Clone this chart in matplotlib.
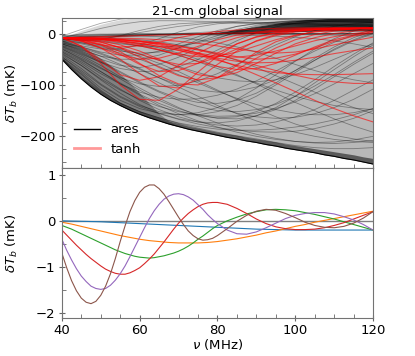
import numpy as np
import matplotlib.pyplot as plt
from matplotlib.lines import Line2D
from matplotlib.ticker import MultipleLocator

# frequency nodes (MHz)
nu_top = [40, 45, 50, 55, 60, 65, 70, 75, 80, 85, 90, 95, 100, 105, 110, 115, 120]
nu_env = [40, 42.5, 45, 47.5, 50, 52.5, 55, 57.5, 60, 62.5, 65, 67.5, 70, 72.5, 75, 77.5, 80,
          82.5, 85, 87.5, 90, 92.5, 95, 97.5, 100, 102.5, 105, 107.5, 110, 112.5, 115, 117.5, 120]

# extent of the ares ensemble (mK)
ares_low = [-50, -70, -88, -104, -118, -130, -140, -149, -157, -164, -170, -176, -181, -186, -190, -194, -198,
            -202, -205, -209, -212, -216, -219, -223, -226, -229, -232, -236, -239, -243, -246, -250, -254]
ares_edge = [-46, -65, -83, -98, -112, -124, -134, -143, -151, -158, -164, -170, -175, -180, -184, -188, -192,
             -195, -198, -202, -205, -208, -211, -215, -218, -221, -224, -227, -230, -233, -236, -240, -243]
ares_mid = [-8, -7, -6, -5.5, -5, -4.5, -4, -3.5, -3, -2.5, -2, -2, -2, -1, -1, -1, -1,
            0, 0, 0, 0, 0, 0, 0, 0, 0, 0, 0, 0, 0, 0, 0, 0]
ares_high = [-8, -1, 6, 12, 18, 23, 27, 30, 31, 31, 31, 31, 31, 31, 31, 31, 31,
             31, 31, 31, 31, 31, 31, 31, 31, 31, 31, 31, 31, 31, 31, 31, 31]
dense_low = [0, 0, 0, 0, 0, 0, 0, 0, 0, 0, 0, 0, 0, 0, 0, 0, 0,
             0, 1, 1, 2, 2, 3, 3, 4, 4, 5, 5, 5, 5, 5, 5, 5]
dense_high = [0, 0, 0, 0, 0, 0, 0, 0, 0, 0, 0, 0, 0, 0, 0, 1, 3,
              5, 8, 11, 14, 17, 20, 23, 25, 27, 28, 29, 30, 31, 31, 31, 31]
# dense wedge at low frequency (40-70 MHz)
dense_left = [-12, -18, -26, -36, -48, -62, -78, -96, -116, -136, -156, -170, -181]

# a sample of ares signals (mK)
ares_signals = [
    [-50, -80, -112, -135, -152, -164, -175, -184, -192, -199, -205, -212, -218, -222, -224, -224, -222],
    [-48, -78, -110, -136, -152, -164, -174, -181, -186, -188, -188, -186, -182, -176, -168, -158, -146],
    [-45, -72, -100, -124, -142, -156, -167, -176, -183, -188, -191, -192, -190, -185, -176, -165, -150],
    [-45, -75, -106, -130, -146, -155, -158, -154, -144, -128, -106, -80, -54, -30, -10, 5, 15],
    [-42, -68, -98, -122, -140, -152, -158, -158, -152, -140, -122, -100, -76, -52, -30, -12, 2],
    [-40, -62, -88, -110, -128, -142, -152, -158, -161, -160, -155, -146, -133, -117, -98, -78, -58],
    [-38, -62, -90, -116, -138, -155, -166, -172, -174, -170, -160, -144, -122, -96, -70, -45, -22],
    [-36, -58, -84, -108, -130, -148, -162, -172, -178, -180, -178, -172, -162, -148, -130, -110, -90],
    [-35, -55, -78, -98, -114, -124, -128, -127, -120, -108, -92, -73, -53, -34, -17, -3, 8],
    [-33, -52, -74, -96, -118, -136, -150, -160, -164, -162, -152, -136, -114, -90, -64, -40, -18],
    [-30, -50, -74, -98, -120, -140, -156, -170, -182, -192, -200, -206, -210, -212, -211, -207, -200],
    [-30, -48, -68, -86, -98, -103, -101, -92, -78, -60, -40, -22, -6, 6, 14, 19, 22],
    [-28, -45, -66, -88, -110, -130, -146, -158, -165, -166, -160, -148, -130, -108, -84, -60, -38],
    [-26, -42, -62, -84, -106, -126, -144, -160, -174, -186, -196, -204, -210, -213, -214, -212, -208],
    [-25, -40, -56, -68, -74, -73, -65, -50, -32, -14, 2, 13, 20, 23, 24, 24, 23],
    [-24, -38, -56, -76, -96, -114, -130, -142, -150, -152, -148, -138, -122, -102, -80, -56, -34],
    [-22, -36, -54, -74, -94, -112, -126, -134, -136, -130, -116, -96, -72, -48, -26, -8, 5],
    [-20, -32, -44, -50, -50, -42, -28, -12, 3, 14, 20, 23, 24, 24, 23, 22, 21],
    [-20, -30, -44, -60, -78, -96, -114, -130, -144, -155, -162, -165, -163, -156, -144, -128, -108],
    [-20, -34, -50, -62, -66, -60, -46, -28, -10, 4, 14, 20, 24, 26, 27, 27, 26],
    [-18, -26, -38, -52, -68, -86, -104, -122, -140, -156, -170, -182, -192, -200, -206, -210, -212],
    [-18, -28, -40, -54, -70, -86, -100, -110, -114, -112, -104, -90, -72, -52, -32, -14, 0],
    [-16, -26, -36, -42, -42, -34, -20, -6, 6, 14, 19, 22, 24, 25, 25, 25, 24],
    [-15, -24, -30, -30, -22, -10, 3, 13, 19, 22, 22, 21, 20, 19, 18, 17, 16],
    [-15, -20, -28, -38, -50, -64, -80, -96, -112, -126, -138, -148, -155, -158, -158, -154, -146],
    [-14, -18, -24, -32, -44, -58, -74, -92, -110, -128, -146, -162, -176, -188, -198, -205, -210],
    [-12, -12, -14, -18, -24, -32, -42, -55, -68, -82, -96, -110, -122, -132, -140, -145, -148],
    [-12, -16, -22, -30, -40, -52, -64, -76, -86, -92, -94, -90, -80, -66, -50, -34, -20],
    [-12, -18, -26, -34, -38, -36, -28, -16, -4, 8, 16, 22, 26, 28, 28, 28, 27],
    [-11, -13, -16, -20, -24, -26, -24, -18, -8, 2, 10, 16, 20, 23, 25, 26, 26],
    [-10, -14, -12, -4, 6, 14, 19, 21, 21, 20, 19, 18, 17, 16, 15, 14, 13],
    [-10, -8, -6, -5, -5, -6, -8, -12, -18, -26, -36, -48, -60, -72, -82, -90, -96],
    [-10, -10, -12, -15, -20, -28, -38, -50, -64, -80, -98, -116, -134, -150, -166, -180, -192],
    [-10, -12, -10, -5, 2, 8, 14, 18, 22, 24, 26, 27, 28, 28, 28, 28, 27],
    [-9, -9, -8, -6, -4, -2, 0, 2, 4, 6, 8, 10, 12, 14, 16, 17, 18],
    [-8, -8, -9, -10, -12, -16, -22, -30, -40, -52, -66, -82, -98, -114, -130, -144, -156],
    [-8, 0, 10, 18, 23, 25, 25, 24, 23, 22, 21, 20, 19, 18, 17, 16, 15],
    [-6, -4, -3, -2, -2, -2, -2, -2, -3, -3, -4, -5, -7, -10, -14, -20, -27],
    [-5, -3, -2, -1, 0, 0, 0, 0, 0, 0, 0, -1, -1, -2, -3, -4, -5],
    [-4, -2, -1, -1, -1, -1, -1, -1, -1, -1, -1, -1, -1, -1, -1, -1, -1],
    [-5, 8, 20, 28, 32, 33, 32, 31, 30, 29, 28, 27, 26, 25, 24, 23, 22],
]

# tanh signals (mK)
tanh_signals = [
    [-8, -25, -58, -100, -128, -130, -108, -75, -44, -20, -6, 2, 6, 8, 9, 10, 10],
    [-8, -14, -28, -50, -78, -102, -106, -88, -60, -34, -14, -2, 5, 8, 9, 10, 10],
    [-8, -24, -52, -80, -91, -84, -62, -38, -20, -8, 0, 5, 8, 9, 10, 10, 10],
    [-8, -12, -20, -35, -58, -82, -98, -100, -86, -62, -36, -16, -4, 4, 8, 9, 10],
    [-8, -10, -14, -22, -34, -50, -66, -80, -85, -76, -58, -38, -20, -8, 0, 5, 8],
    [-8, -9, -11, -15, -22, -31, -42, -54, -64, -70, -68, -58, -42, -26, -12, -3, 4],
    [-8, -9, -10, -12, -15, -20, -28, -38, -50, -64, -80, -96, -113, -130, -146, -160, -172],
    [-8, -9, -10, -12, -15, -19, -25, -32, -41, -51, -62, -72, -81, -89, -94, -97, -97],
    [-8, -9, -11, -14, -19, -25, -33, -42, -52, -62, -70, -76, -79, -80, -80, -79, -78],
    [-8, -9, -11, -14, -19, -25, -32, -40, -48, -54, -57, -56, -52, -46, -39, -33, -28],
    [-8, -15, -28, -42, -50, -48, -38, -25, -12, -3, 3, 7, 9, 10, 11, 11, 11],
    [-8, -11, -17, -27, -40, -52, -60, -58, -46, -30, -15, -4, 3, 7, 9, 10, 11],
    [-8, -9, -12, -17, -24, -32, -40, -45, -44, -36, -24, -12, -3, 3, 7, 9, 10],
    [-8, -8, -9, -11, -14, -18, -24, -31, -38, -45, -50, -48, -40, -28, -15, -5, 2],
    [-8, -8, -8, -9, -10, -12, -15, -19, -24, -30, -35, -38, -36, -30, -22, -14, -7],
    [-8, -14, -22, -26, -24, -17, -8, -1, 4, 7, 9, 10, 11, 11, 11, 11, 11],
    [-8, -12, -22, -40, -60, -74, -72, -58, -38, -20, -7, 1, 6, 8, 10, 10, 10],
    [-8, -7, -6, -5, -4, -3, -2, -1, 0, 1, 2, 4, 6, 8, 9, 10, 11],
    [-8, -9, -10, -12, -16, -22, -30, -38, -44, -46, -42, -34, -24, -14, -6, 0, 5],
    [-8, -10, -16, -28, -46, -66, -82, -90, -86, -70, -48, -28, -12, -2, 5, 9, 11],
]

# modes in the lower panel (mK)
nu_modes = [40, 41.25, 42.5, 43.75, 45, 46.25, 47.5, 48.75, 50, 51.25, 52.5, 53.75, 55, 56.25, 57.5, 58.75,
            60, 61.25, 62.5, 63.75, 65, 66.25, 67.5, 68.75, 70, 71.25, 72.5, 73.75, 75, 76.25, 77.5, 78.75,
            80, 82.5, 85, 87.5, 90, 92.5, 95, 97.5, 100, 102.5, 105, 107.5, 110, 112.5, 115, 117.5, 120]
mode_1 = [0.0, -0.002, -0.005, -0.007, -0.01, -0.012, -0.015, -0.017, -0.02, -0.025, -0.03, -0.035,
          -0.04, -0.045, -0.05, -0.055, -0.06, -0.065, -0.07, -0.075, -0.08, -0.085, -0.09, -0.095,
          -0.10, -0.105, -0.11, -0.115, -0.12, -0.125, -0.13, -0.135, -0.14,
          -0.15, -0.16, -0.17, -0.18, -0.185, -0.19, -0.195, -0.2, -0.2, -0.2, -0.2, -0.2, -0.2, -0.2, -0.2, -0.2]
mode_2 = [-0.03, -0.05, -0.07, -0.095, -0.12, -0.145, -0.17, -0.195, -0.22, -0.245, -0.27, -0.295,
          -0.32, -0.34, -0.36, -0.38, -0.40, -0.415, -0.43, -0.44, -0.45, -0.46, -0.47, -0.475,
          -0.48, -0.48, -0.48, -0.48, -0.48, -0.475, -0.47, -0.46, -0.45,
          -0.42, -0.39, -0.35, -0.31, -0.26, -0.22, -0.17, -0.12, -0.08, -0.03, 0.01, 0.05, 0.09, 0.13, 0.17, 0.21]
mode_3 = [-0.10, -0.14, -0.18, -0.23, -0.28, -0.33, -0.38, -0.43, -0.48, -0.53, -0.58, -0.63,
          -0.67, -0.71, -0.74, -0.77, -0.79, -0.80, -0.81, -0.80, -0.78, -0.76, -0.73, -0.70,
          -0.66, -0.61, -0.55, -0.48, -0.40, -0.33, -0.25, -0.17, -0.10,
          0.0, 0.08, 0.15, 0.20, 0.24, 0.25, 0.24, 0.22, 0.18, 0.14, 0.09, 0.04, -0.02, -0.08, -0.14, -0.20]
mode_4 = [-0.20, -0.31, -0.42, -0.53, -0.63, -0.73, -0.82, -0.90, -0.98, -1.05, -1.10, -1.14,
          -1.16, -1.16, -1.13, -1.08, -1.02, -0.93, -0.83, -0.72, -0.59, -0.46, -0.32, -0.18,
          -0.05, 0.06, 0.16, 0.24, 0.31, 0.36, 0.39, 0.40, 0.40,
          0.36, 0.27, 0.16, 0.04, -0.06, -0.13, -0.17, -0.19, -0.19, -0.18, -0.15, -0.10, -0.04, 0.04, 0.12, 0.20]
mode_5 = [-0.40, -0.64, -0.85, -1.04, -1.20, -1.32, -1.42, -1.47, -1.49, -1.47, -1.40, -1.29,
          -1.15, -0.98, -0.78, -0.57, -0.36, -0.15, 0.05, 0.22, 0.36, 0.47, 0.54, 0.58,
          0.59, 0.57, 0.52, 0.45, 0.35, 0.25, 0.13, 0.03, -0.06,
          -0.20, -0.28, -0.29, -0.24, -0.15, -0.05, 0.05, 0.12, 0.16, 0.18, 0.18, 0.15, 0.09, 0.02, -0.08, -0.20]
mode_6 = [-0.70, -1.02, -1.30, -1.52, -1.68, -1.77, -1.80, -1.75, -1.62, -1.42, -1.15, -0.82,
          -0.45, -0.11, 0.20, 0.44, 0.62, 0.73, 0.78, 0.78, 0.70, 0.58, 0.42, 0.25,
          0.08, -0.08, -0.22, -0.32, -0.39, -0.42, -0.41, -0.38, -0.32,
          -0.17, -0.01, 0.12, 0.21, 0.25, 0.23, 0.16, 0.07, -0.03, -0.10, -0.14, -0.15, -0.12, -0.05, 0.06, 0.20]
modes = [mode_1, mode_2, mode_3, mode_4, mode_5, mode_6]

plt.rcParams['font.size'] = 9.5
fig, (ax1, ax2) = plt.subplots(2, 1, sharex=True, figsize=(4.15, 3.56), dpi=100)
fig.subplots_adjust(left=0.149, right=0.899, top=0.949, bottom=0.107, hspace=0.005)

# top panel - ares ensemble as shaded band plus sample curves
n_left = len(dense_left)
ax1.fill_between(nu_env, ares_low, ares_mid, color='0.72', lw=0)
ax1.fill_between(nu_env, ares_mid, ares_high, color='0.85', lw=0)
ax1.fill_between(nu_env[:n_left], ares_low[:n_left], dense_left, color='k', alpha=0.3, lw=0)
ax1.fill_between(nu_env, ares_low, ares_edge, color='0.2', alpha=0.7, lw=0)
ax1.fill_between(nu_env, dense_low, dense_high, color='k', alpha=0.75, lw=0)
ax1.plot(nu_env, ares_low, color='k', lw=0.8)
ax1.plot(nu_env, ares_mid, color='k', lw=1, alpha=0.6)
for sig in ares_signals:
    ax1.plot(nu_top, sig, color='k', alpha=0.35, lw=0.6)
for sig in tanh_signals:
    ax1.plot(nu_top, sig, color='red', alpha=0.6, lw=0.8)
ax1.set_ylim(-261, 30)
ax1.set_title('21-cm global signal', fontsize=9.5, pad=2)
ax1.set_ylabel(r'$\delta T_b$ (mK)')
handles = [Line2D([], [], color='k', lw=1),
           Line2D([], [], color='red', alpha=0.4, lw=2)]
ax1.legend(handles, ['ares', 'tanh'], loc='lower left', frameon=False)
ax1.yaxis.set_minor_locator(MultipleLocator(25))

# bottom panel
ax2.axhline(0, color='gray', lw=1)
for i, m in enumerate(modes):
    ax2.plot(nu_modes, m, color=f'C{i}', lw=0.8)
ax2.set_xlim(40, 120)
ax2.set_ylim(-2.11, 1.14)
ax2.set_xlabel(r'$\nu$ (MHz)', labelpad=0)
ax2.set_ylabel(r'$\delta T_b$ (mK)')
ax2.xaxis.set_major_locator(MultipleLocator(20))
ax2.xaxis.set_minor_locator(MultipleLocator(5))
ax2.yaxis.set_minor_locator(MultipleLocator(0.5))

for ax in (ax1, ax2):
    ax.yaxis.set_label_coords(-0.135, 0.5)
    ax.tick_params(which='major', direction='inout', length=5, color='0.4', pad=2)
    ax.tick_params(which='minor', direction='in', length=3, color='0.4')
    for sp in ax.spines.values():
        sp.set_color('0.45')

plt.savefig('out.png', dpi=100)
